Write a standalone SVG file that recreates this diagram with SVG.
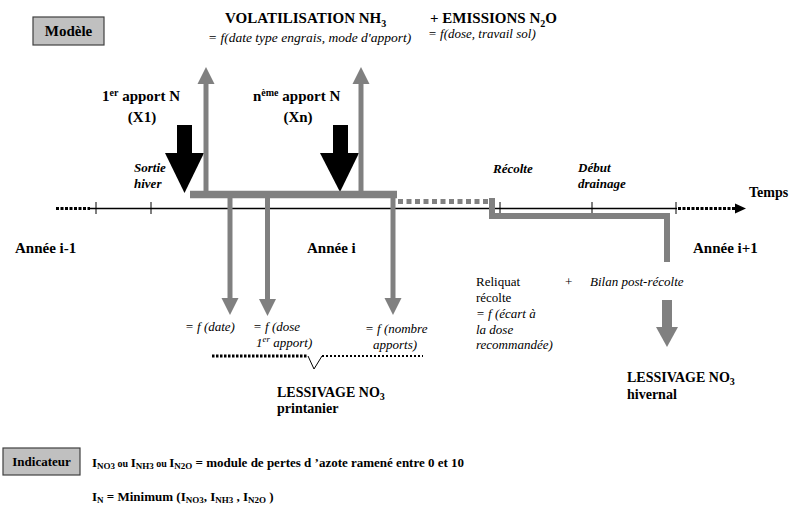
<svg xmlns="http://www.w3.org/2000/svg" width="790" height="511" viewBox="0 0 790 511">
<defs>
<style>
text{font-family:"Liberation Serif","Times New Roman",serif;fill:#000}
.b{font-weight:bold;font-size:15px}
.bm{font-weight:bold;font-size:14px}
.bs{font-weight:bold;font-size:13px}
.bi{font-weight:bold;font-style:italic;font-size:13px}
.i{font-style:italic;font-size:13px}
.r{font-size:13px}
.g{stroke:#808080;fill:none}
.gf{fill:#808080;stroke:none}
.box{fill:#c0c0c0;stroke:#404040;stroke-width:1.2}
</style>
</defs>
<rect width="790" height="511" fill="#fff"/>

<g id="modele">
<rect class="box" x="33" y="17" width="71" height="28"/>
<text class="b" x="68.5" y="36" text-anchor="middle">Modèle</text>
</g>

<g id="volatilisation">
<text class="b" x="225" y="23">VOLATILISATION NH<tspan font-size="10" dy="4">3</tspan></text>
<text class="i" x="208" y="42" style="font-size:13.5px">= f(date type engrais, mode d'apport)</text>
</g>
<g id="emissions">
<text class="b" x="430" y="23">+ EMISSIONS N<tspan font-size="10" dy="4">2</tspan><tspan dy="-4">O</tspan></text>
<text class="i" x="428" y="38">= f(dose, travail sol)</text>
</g>

<g id="apport1">
<text class="b" x="102" y="101">1<tspan font-size="10" dy="-5">er</tspan><tspan dy="5"> apport N</tspan></text>
<text class="b" x="142" y="122" text-anchor="middle">(X1)</text>
<rect x="177" y="125" width="15" height="29" fill="#000"/>
<polygon points="165,153 204,153 184.5,193" fill="#000"/>
</g>
<g id="apportn">
<text class="b" x="253" y="101">n<tspan font-size="10" dy="-5">ème</tspan><tspan dy="5"> apport N</tspan></text>
<text class="b" x="298" y="122" text-anchor="middle">(Xn)</text>
<rect x="333" y="125" width="15" height="29" fill="#000"/>
<polygon points="320,153 359,153 340,192" fill="#000"/>
</g>

<g id="timeline">
<line x1="56" y1="208.5" x2="90" y2="208.5" stroke="#000" stroke-width="3" stroke-dasharray="3,1.5"/>
<line x1="90" y1="208.5" x2="677" y2="208.5" stroke="#000" stroke-width="1.6"/>
<line x1="678" y1="208.5" x2="736" y2="208.5" stroke="#000" stroke-width="3" stroke-dasharray="3,1.5"/>
<polygon points="735,203.5 746,208.5 735,213.5" fill="#000"/>
<g stroke="#000" stroke-width="1">
<line x1="96" y1="202" x2="96" y2="214"/>
<line x1="151" y1="202" x2="151" y2="214"/>
<line x1="500" y1="202" x2="500" y2="214"/>
<line x1="592" y1="202" x2="592" y2="214"/>
<line x1="676" y1="202" x2="676" y2="214"/>
</g>
<text class="bi" x="134" y="172">Sortie</text>
<text class="bi" x="134" y="188">hiver</text>
<text class="bi" x="493" y="173">Récolte</text>
<text class="bi" x="578" y="172">Début</text>
<text class="bi" x="578" y="188">drainage</text>
<text class="b" x="749" y="197" style="font-size:14px">Temps</text>
<text class="b" x="15" y="253">Année i-1</text>
<text class="b" x="307" y="253">Année i</text>
<text class="b" x="693" y="253">Année i+1</text>
</g>

<g id="connectors">
<line class="g" x1="190" y1="194.5" x2="397" y2="194.5" stroke-width="7.5"/>
<line class="g" x1="206" y1="191" x2="206" y2="82" stroke-width="5"/>
<polygon class="gf" points="206,67 197.5,84 214.5,84"/>
<line class="g" x1="361" y1="191" x2="361" y2="82" stroke-width="5"/>
<polygon class="gf" points="361,67 352.5,84 369.5,84"/>
<line class="g" x1="230" y1="197" x2="230" y2="300" stroke-width="5"/>
<polygon class="gf" points="221.5,298 238.5,298 230,315"/>
<line class="g" x1="267.5" y1="197" x2="267.5" y2="300" stroke-width="5"/>
<polygon class="gf" points="259,299 276,299 267.5,316"/>
<line class="g" x1="393" y1="191" x2="393" y2="300" stroke-width="5"/>
<polygon class="gf" points="384.5,298 401.5,298 393,315"/>
<line class="g" x1="398" y1="201.5" x2="490" y2="201.5" stroke-width="5" stroke-dasharray="5,3.5"/>
<path class="g" d="M492,198 V216 H667 V262" stroke-width="6"/>
<rect class="gf" x="662" y="300" width="10" height="28"/>
<polygon class="gf" points="656,327 678,327 667,347"/>
</g>

<g id="reliquat">
<text class="r" x="476" y="286">Reliquat</text>
<text class="r" x="565" y="286">+</text>
<text class="i" x="590" y="286">Bilan post-récolte</text>
<text class="r" x="476" y="302">récolte</text>
<text class="i" x="476" y="318">= f (écart à</text>
<text class="i" x="476" y="334">la dose</text>
<text class="i" x="476" y="349">recommandée)</text>
</g>

<g id="printanier">
<text class="i" x="185" y="331">= f (date)</text>
<text class="i" x="253" y="331">= f (dose</text>
<text class="i" x="256" y="347">1<tspan font-size="9" dy="-5">er</tspan><tspan dy="5"> apport)</tspan></text>
<text class="i" x="365" y="333">= f (nombre</text>
<text class="i" x="373" y="349">apports)</text>
<line x1="212" y1="356" x2="308" y2="356" stroke="#000" stroke-width="3" stroke-dasharray="2.5,1.5"/>
<polyline points="308,356 314,369 322,356" fill="none" stroke="#000" stroke-width="1"/>
<line x1="322" y1="356" x2="423" y2="356" stroke="#000" stroke-width="2" stroke-dasharray="2,2"/>
<text class="bm" x="277" y="397">LESSIVAGE NO<tspan font-size="10" dy="3">3</tspan></text>
<text class="bm" x="277" y="413">printanier</text>
</g>

<g id="hivernal">
<text class="bm" x="627" y="382">LESSIVAGE NO<tspan font-size="10" dy="3">3</tspan></text>
<text class="bm" x="627" y="399">hivernal</text>
</g>

<g id="indicateur">
<rect class="box" x="3" y="448" width="77" height="27"/>
<text class="bs" x="41.5" y="466" text-anchor="middle">Indicateur</text>
<text class="bs" x="92" y="467">I<tspan font-size="9" dy="2">NO3</tspan><tspan font-size="10" dy="-2"> ou </tspan>I<tspan font-size="9" dy="2">NH3</tspan><tspan font-size="10" dy="-2"> ou </tspan>I<tspan font-size="9" dy="2">N2O</tspan><tspan dy="-2"> = module de pertes d ’azote ramené entre 0 et 10</tspan></text>
<text class="bs" x="92" y="501">I<tspan font-size="9" dy="2">N</tspan><tspan dy="-2"> = Minimum (I</tspan><tspan font-size="9" dy="2">NO3</tspan><tspan dy="-2">,  I</tspan><tspan font-size="9" dy="2">NH3</tspan><tspan dy="-2"> , I</tspan><tspan font-size="9" dy="2">N2O</tspan><tspan dy="-2"> )</tspan></text>
</g>
</svg>
